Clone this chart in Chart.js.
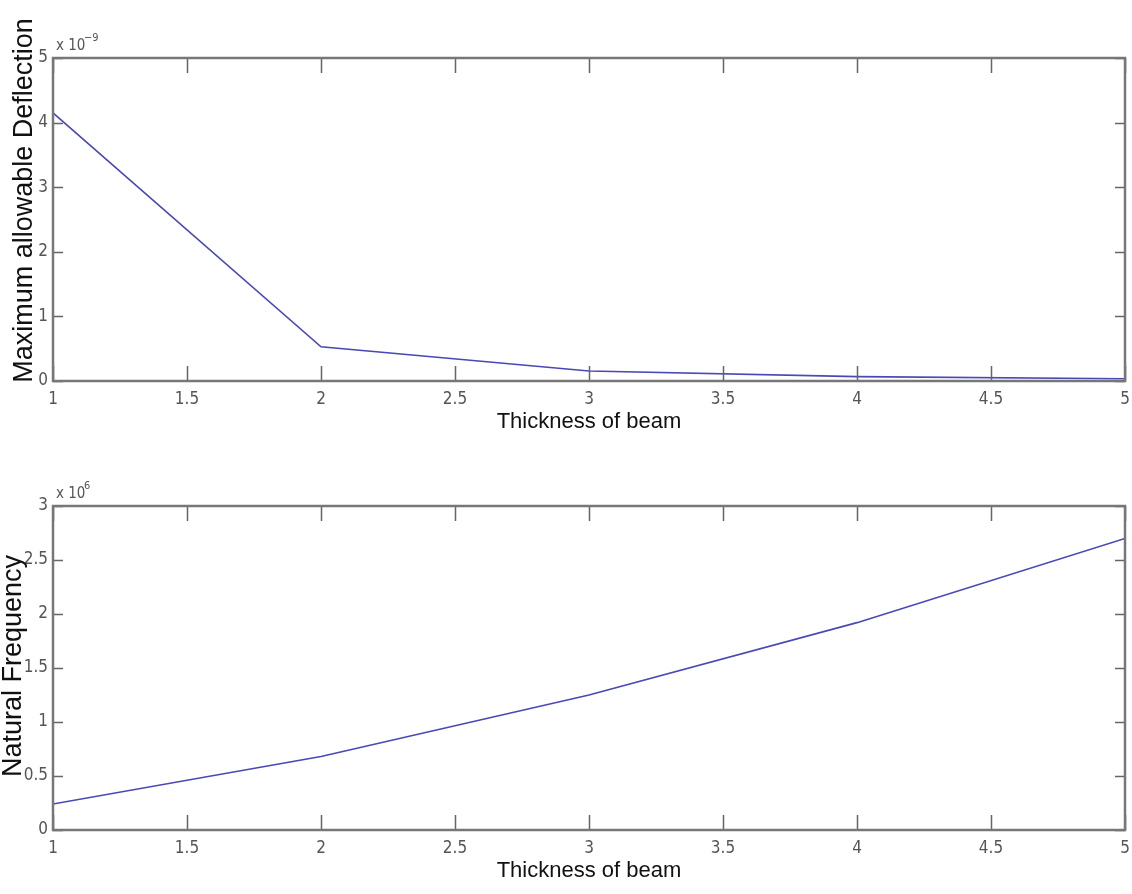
<!DOCTYPE html>
<html>
<head>
<meta charset="utf-8">
<title>Beam thickness</title>
<script src="https://cdn.jsdelivr.net/npm/chart.js@4.4.1/dist/chart.umd.min.js"></script>
<style>
  body { margin: 0; background: #fff; }
  #top, #bottom { position: absolute; left: 0; }
  #top { top: 0; }
  #bottom { top: 450px; }
</style>
</head>
<body>
<canvas id="top" width="1132" height="450"></canvas>
<canvas id="bottom" width="1132" height="444"></canvas>
<script>
// data
const thickness = [1, 2, 3, 4, 5];
const deflection = [4.15, 0.53, 0.155, 0.068, 0.035];   // x 10^-9
const frequency = [0.24, 0.68, 1.25, 1.92, 2.70];       // x 10^6
const xTicks = [1, 1.5, 2, 2.5, 3, 3.5, 4, 4.5, 5];
const deflTicks = [0, 1, 2, 3, 4, 5];
const freqTicks = [0, 0.5, 1, 1.5, 2, 2.5, 3];

const TICK_FONT = { family: "'Liberation Sans Narrow', 'DejaVu Sans Condensed', sans-serif", size: 17 };
const TITLE_FONT = "'Liberation Sans', Arial, sans-serif";

// matlab style box with inward ticks on all four sides + exponent + y title
const matlabBox = {
  id: 'matlabBox',
  afterDraw(chart, args, opts) {
    const ctx = chart.ctx;
    const a = chart.chartArea;
    const xs = chart.scales.x, ys = chart.scales.y;
    ctx.save();
    ctx.strokeStyle = '#666';
    ctx.lineWidth = 1.5;
    ctx.beginPath();
    xs.ticks.forEach(t => {
      const px = Math.round(xs.getPixelForValue(t.value)) + 0.5;
      ctx.moveTo(px, a.bottom); ctx.lineTo(px, a.bottom - 15);
      ctx.moveTo(px, a.top); ctx.lineTo(px, a.top + 15);
    });
    ys.ticks.forEach(t => {
      const py = Math.round(ys.getPixelForValue(t.value)) + 0.5;
      ctx.moveTo(a.left, py); ctx.lineTo(a.left + 10, py);
      ctx.moveTo(a.right, py); ctx.lineTo(a.right - 10, py);
    });
    ctx.stroke();
    ctx.lineWidth = 2.5;
    ctx.strokeStyle = '#777';
    ctx.strokeRect(a.left, a.top, a.right - a.left, a.bottom - a.top);

    // exponent label
    ctx.fillStyle = '#555';
    ctx.textBaseline = 'alphabetic';
    ctx.textAlign = 'left';
    ctx.font = "15px " + TICK_FONT.family;
    ctx.fillText('x 10', a.left + 3, a.top - 8);
    ctx.font = "11px " + TICK_FONT.family;
    ctx.fillText(opts.exponent, a.left + 31, a.top - 17);

    // y axis title
    ctx.fillStyle = '#111';
    ctx.font = "27px " + TITLE_FONT;
    ctx.textAlign = 'center';
    ctx.textBaseline = 'middle';
    ctx.translate(opts.titleX, (a.top + a.bottom) / 2 + opts.titleShift);
    ctx.rotate(-Math.PI / 2);
    ctx.fillText(opts.title, 0, 0);
    ctx.restore();
  }
};

function makeChart(id, values, yTicks, yMax, top, xHeight, xTitlePad, exponent, yTitle, titleX, titleShift) {
  return new Chart(document.getElementById(id), {
    type: 'line',
    data: {
      datasets: [{
        data: thickness.map((t, i) => ({ x: t, y: values[i] })),
        borderColor: '#4848b6',
        borderWidth: 1.6,
        pointRadius: 0,
        tension: 0,
        fill: false
      }]
    },
    plugins: [matlabBox],
    options: {
      responsive: false,
      animation: false,
      layout: { padding: { top: top, right: 7, left: 0, bottom: 0 } },
      plugins: {
        legend: { display: false },
        tooltip: { enabled: false },
        matlabBox: { exponent: exponent, title: yTitle, titleX: titleX, titleShift: titleShift }
      },
      scales: {
        x: {
          type: 'linear',
          min: 1, max: 5,
          afterBuildTicks: s => { s.ticks = xTicks.map(v => ({ value: v })); },
          afterFit: s => { s.height = xHeight; s.paddingLeft = 0; s.paddingRight = 0; },
          grid: { display: false, drawTicks: false },
          border: { display: false },
          ticks: { font: TICK_FONT, color: '#555', padding: 8, maxRotation: 0, autoSkip: false,
                   callback: v => String(v) },
          title: {
            display: true,
            text: 'Thickness of beam',
            color: '#111',
            font: { family: TITLE_FONT, size: 22 },
            padding: { top: 0, bottom: xTitlePad }
          }
        },
        y: {
          type: 'linear',
          min: 0, max: yMax,
          afterBuildTicks: s => { s.ticks = yTicks.map(v => ({ value: v })); },
          afterFit: s => { s.width = 53; s.paddingTop = 0; s.paddingBottom = 0; },
          grid: { display: false, drawTicks: false },
          border: { display: false },
          ticks: { font: TICK_FONT, color: '#555', padding: 5, callback: v => String(v) }
        }
      }
    }
  });
}

makeChart('top', deflection, deflTicks, 5, 58, 69, 15, '\u22129', 'Maximum allowable Deflection', 25, -19);
makeChart('bottom', frequency, freqTicks, 3, 56, 64, 10, '6', 'Natural Frequency', 14, -2);
</script>
</body>
</html>
